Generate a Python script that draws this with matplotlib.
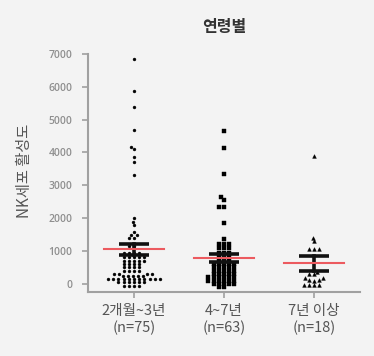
import numpy as np
import matplotlib
matplotlib.use("Agg")
import matplotlib.pyplot as plt

plt.rcParams['font.family'] = ['Noto Sans CJK KR', 'DejaVu Sans']

# ---- data ----
categories = ["2개월~3년\n(n=75)", "4~7년\n(n=63)", "7년 이상\n(n=18)"]
title = "연령별"
ylabel = "NK세포 활성도"
yticks = [0, 1000, 2000, 3000, 4000, 5000, 6000, 7000]

group1 = ([6840, 5870, 5400, 4670, 4180, 4100, 3860, 3700, 3310,
           2000, 1880, 1790, 1580, 1480, 1480, 1400, 1400,
           1150, 1150]
          + [950] * 4 + [830] * 5 + [700] * 5 + [600] * 4 + [500] * 4
          + [400] * 4 + [300] * 4 + [230] * 5 + [140] * 11 + [40] * 6
          + [-60] * 4)
group2 = ([4656, 4128, 3347, 2638, 2566, 2333, 2333, 1846, 1359]
          + [1200] * 3 + [1080] * 3 + [950] * 3 + [820] * 3 + [700] * 3
          + [600] * 5 + [500] * 5 + [400] * 5 + [300] * 5 + [200] * 6
          + [100] * 6 + [0] * 5 + [-100] * 2)
group3 = [3905, 1390, 1300, 1070, 1070, 1070, 370, 300, 300, 170, 170,
          110, 110, 100, -40, -40, -40, -40]

groups = [group1, group2, group3]
markers = ['o', 's', '^']
marker_sizes = [2.1, 2.2, 2.7]

# ---- figure ----
W, H = 374, 356
fig = plt.figure(figsize=(W / 100, H / 100), dpi=100)
bg = '#f3f3f3'
fig.patch.set_facecolor(bg)
ax = fig.add_axes([88 / W, (H - 292) / H, (360 - 88) / W, (292 - 54) / H])
ax.set_facecolor(bg)
ymin, ymax = -250, 7000
xmin, xmax = -0.51, 2.51
ax.set_ylim(ymin, ymax)
ax.set_xlim(xmin, xmax)

# pixel scales for swarm layout
px_per_x = (360 - 88) / (xmax - xmin)
px_per_y = (292 - 54) / (ymax - ymin)
dx0 = 5.2  # horizontal separation, px
dy0 = 3.0  # vertical separation, px


def swarm(vals):
    order = np.argsort(vals, kind='stable')
    ys = np.asarray(vals, float) * px_per_y
    placed = []
    xs = np.zeros(len(vals))
    for i in order:
        y = ys[i]
        cands = [0.0]
        for (px, py) in placed:
            dy = abs(py - y)
            if dy < dy0:
                dx = dx0 * np.sqrt(1 - (dy / dy0) ** 2)
                cands += [px + dx, px - dx]
        cands = sorted(cands, key=lambda c: (abs(c), c))
        for c in cands:
            ok = True
            for (px, py) in placed:
                if ((px - c) / dx0) ** 2 + ((py - y) / dy0) ** 2 < 1 - 1e-6:
                    ok = False
                    break
            if ok:
                xs[i] = c
                placed.append((c, y))
                break
    return xs / px_per_x


for k, g in enumerate(groups):
    offs = swarm(g)
    ax.plot(k + offs, g, linestyle='none', marker=markers[k],
            ms=marker_sizes[k], color='black', mec='black', mew=0.3, zorder=3)
    arr = np.asarray(g, float)
    m = arr.mean()
    sem = arr.std(ddof=1) / np.sqrt(len(arr))
    ax.plot([k - 0.167, k + 0.167], [m + sem, m + sem], color='#111111', lw=2.6, zorder=4, solid_capstyle='butt')
    ax.plot([k - 0.167, k + 0.167], [m - sem, m - sem], color='#111111', lw=2.6, zorder=4, solid_capstyle='butt')
    ax.plot([k, k], [m - sem, m + sem], color='#111111', lw=2.6, zorder=4)
    ax.plot([k - 0.333, k + 0.333], [m, m], color='#ec5a5f', lw=1.5, zorder=5)

for s in ['top', 'right']:
    ax.spines[s].set_visible(False)
for s in ['left', 'bottom']:
    ax.spines[s].set_color('#a0a0a0')
    ax.spines[s].set_linewidth(1.5)
ax.spines['left'].set_bounds(ymin, 7000)

ax.set_yticks(yticks)
ax.set_yticklabels([str(t) for t in yticks], fontsize=7.5, color='#8f8f8f',
                   fontweight='semibold', family=['Open Sans', 'DejaVu Sans'])
ax.tick_params(axis='y', length=4, width=1.2, color='#a0a0a0', pad=7)
ax.set_xticks([0, 1, 2])
ax.set_xticklabels(categories, fontsize=10.5, color='#555555', linespacing=1.2)
ax.tick_params(axis='x', length=4, width=1.2, color='#a0a0a0', pad=5)

fig.text(224 / W, 1 - 27 / H, title, ha='center', va='center', fontsize=11.5,
         fontweight='bold', color='#333333')
fig.text(24 / W, 1 - 171 / H, ylabel, ha='center', va='center', rotation=90,
         fontsize=11, color='#555555')

fig.savefig('out.png', dpi=100, facecolor=bg)
